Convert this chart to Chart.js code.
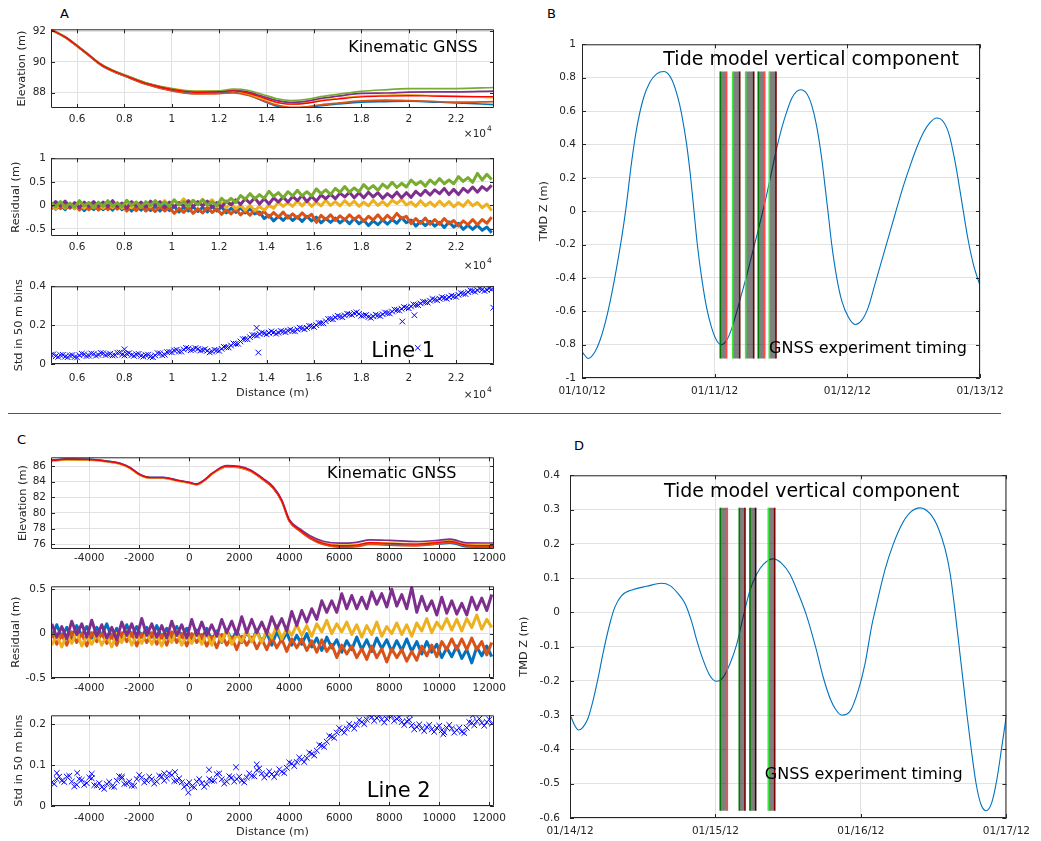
<!DOCTYPE html>
<html>
<head>
<meta charset="utf-8">
<script src="https://cdn.jsdelivr.net/npm/chart.js@4.4.1/dist/chart.umd.min.js"></script>
<style>
  body { margin: 0; background: #fff; width: 1041px; height: 841px; position: relative; overflow: hidden; font-family: "DejaVu Sans", sans-serif; }
  canvas { position: absolute; }
  .tag { position: absolute; font-size: 13px; line-height: 13px; color: #000; }
  .rule { position: absolute; left: 8px; width: 993px; top: 413px; height: 0; border-top: 1px solid #555; }
</style>
</head>
<body>
<div class="tag" style="left:60px;top:7px">A</div>
<div class="tag" style="left:547px;top:7px">B</div>
<div class="tag" style="left:17px;top:433px">C</div>
<div class="tag" style="left:574px;top:439px">D</div>
<div class="rule"></div>

<canvas id="a1"></canvas>
<canvas id="a2"></canvas>
<canvas id="a3"></canvas>
<canvas id="b"></canvas>
<canvas id="c1"></canvas>
<canvas id="c2"></canvas>
<canvas id="c3"></canvas>
<canvas id="d"></canvas>

<script>
// ---------- Line 1 (distance in units of 1e4 m) ----------
const distElevA = [0.49, 0.55, 0.6, 0.65, 0.7, 0.75, 0.8, 0.9, 1.0, 1.1, 1.2, 1.26, 1.32, 1.38, 1.44, 1.5, 1.57, 1.63, 1.7, 1.8, 1.9, 2.0, 2.1, 2.2, 2.36];
const elevA_mean   = [92.11, 91.62, 91.05, 90.45, 89.84, 89.43, 89.13, 88.56, 88.20, 88.02, 88.05, 88.11, 87.97, 87.68, 87.38, 87.24, 87.30, 87.45, 87.57, 87.72, 87.77, 87.79, 87.77, 87.74, 87.73];
const elevA_green  = [92.12, 91.63, 91.07, 90.47, 89.86, 89.46, 89.16, 88.59, 88.24, 88.07, 88.10, 88.22, 88.15, 87.89, 87.61, 87.48, 87.56, 87.73, 87.88, 88.08, 88.18, 88.25, 88.26, 88.26, 88.33];
const elevA_purple = [92.13, 91.64, 91.07, 90.47, 89.86, 89.45, 89.15, 88.58, 88.22, 88.04, 88.07, 88.16, 88.04, 87.77, 87.49, 87.36, 87.44, 87.62, 87.76, 87.95, 87.97, 88.03, 88.04, 88.04, 88.09];
const elevA_yellow = [92.09, 91.60, 91.04, 90.44, 89.83, 89.42, 89.13, 88.58, 88.27, 88.09, 88.09, 88.10, 87.92, 87.61, 87.35, 87.25, 87.33, 87.49, 87.61, 87.76, 87.82, 87.85, 87.80, 87.77, 87.66];
const elevA_orange = [92.09, 91.60, 91.02, 90.42, 89.80, 89.39, 89.08, 88.49, 88.10, 87.91, 87.93, 87.98, 87.82, 87.51, 87.19, 87.03, 87.07, 87.20, 87.31, 87.45, 87.51, 87.47, 87.42, 87.37, 87.41];
const elevA_blue   = [92.08, 91.59, 91.02, 90.41, 89.80, 89.39, 89.08, 88.51, 88.13, 87.94, 87.97, 88.02, 87.86, 87.48, 87.12, 87.00, 87.01, 87.15, 87.25, 87.37, 87.41, 87.43, 87.38, 87.33, 87.21];

const distA = [0.49,0.51,0.53,0.55,0.57,0.59,0.61,0.63,0.65,0.67, 0.69,0.71,0.73,0.75,0.77,0.79,0.81,0.83,0.85,0.87,
  0.89,0.91,0.93,0.95,0.97,0.99,1.01,1.03,1.05,1.07, 1.09,1.11,1.13,1.15,1.17,1.19,1.21,1.23,1.25,1.27,
  1.29,1.31,1.33,1.35,1.37,1.39,1.41,1.43,1.45,1.47, 1.49,1.51,1.53,1.55,1.57,1.59,1.61,1.63,1.65,1.67,
  1.69,1.71,1.73,1.75,1.77,1.79,1.81,1.83,1.85,1.87, 1.89,1.91,1.93,1.95,1.97,1.99,2.01,2.03,2.05,2.07,
  2.09,2.11,2.13,2.15,2.17,2.19,2.21,2.23,2.25,2.27, 2.29,2.31,2.33,2.35];
const distA_mid = [0.50,0.52,0.54,0.56,0.58,0.60,0.62,0.64,0.66,0.68, 0.70,0.72,0.74,0.76,0.78,0.80,0.82,0.84,0.86,0.88,
  0.90,0.92,0.94,0.96,0.98,1.00,1.02,1.04,1.06,1.08, 1.10,1.12,1.14,1.16,1.18,1.20,1.22,1.24,1.26,1.28,
  1.30,1.32,1.34,1.36,1.38,1.40,1.42,1.44,1.46,1.48, 1.50,1.52,1.54,1.56,1.58,1.60,1.62,1.64,1.66,1.68,
  1.70,1.72,1.74,1.76,1.78,1.80,1.82,1.84,1.86,1.88, 1.90,1.92,1.94,1.96,1.98,2.00,2.02,2.04,2.06,2.08,
  2.10,2.12,2.14,2.16,2.18,2.20,2.22,2.24,2.26,2.28, 2.30,2.32,2.34];

const resA_green = [0.06,-0.03,0.08,-0.04,0.05,-0.04,0.10,-0.01,0.06,-0.05, 0.07,-0.02,0.10,-0.02,0.06,-0.03,0.11,0.00,0.07,-0.04,
  0.08,-0.01,0.10,-0.01,0.07,-0.02,0.12,0.01,0.08,-0.03, 0.10,0.01,0.12,0.00,0.08,-0.01,0.15,0.06,0.15,0.06,
  0.21,0.13,0.25,0.14,0.23,0.15,0.30,0.19,0.27,0.16, 0.29,0.20,0.32,0.20,0.29,0.20,0.35,0.25,0.33,0.23,
  0.36,0.28,0.40,0.28,0.37,0.29,0.44,0.34,0.42,0.32, 0.45,0.37,0.49,0.38,0.47,0.39,0.54,0.44,0.51,0.41,
  0.54,0.45,0.57,0.46,0.54,0.46,0.61,0.51,0.59,0.49, 0.68,0.54,0.66,0.55];
const resA_purple = [-0.03,0.08,-0.01,0.09,-0.04,0.06,-0.05,0.07,-0.02,0.08, -0.02,0.07,-0.03,0.10,-0.03,0.05,-0.06,0.08,-0.01,0.07,
  -0.04,0.09,0.00,0.08,-0.05,0.07,-0.03,0.06,-0.02,0.10, -0.03,0.08,-0.01,0.09,-0.04,0.06,-0.04,0.09,0.01,0.12,
  0.02,0.14,0.05,0.16,0.03,0.14,0.03,0.16,0.07,0.18, 0.07,0.19,0.10,0.21,0.08,0.19,0.09,0.22,0.14,0.24,
  0.14,0.26,0.18,0.28,0.16,0.27,0.16,0.28,0.18,0.27, 0.15,0.25,0.17,0.28,0.16,0.27,0.17,0.30,0.21,0.32,
  0.22,0.33,0.25,0.36,0.23,0.34,0.23,0.36,0.28,0.39, 0.28,0.40,0.32,0.43];
const resA_yellow = [0.02,-0.07,0.04,-0.06,0.03,-0.07,0.02,-0.06,0.06,-0.05, 0.03,-0.06,0.05,-0.05,0.05,-0.06,0.03,-0.05,0.07,-0.04,
  0.04,-0.03,0.09,0.00,0.10,-0.01,0.10,0.02,0.14,0.03, 0.11,0.02,0.13,0.03,0.12,-0.02,0.05,-0.05,0.05,-0.07,
  0.00,-0.10,0.00,-0.11,-0.02,-0.10,0.00,-0.06,0.07,-0.02, 0.06,-0.02,0.09,-0.01,0.09,-0.02,0.07,-0.01,0.11,0.00,
  0.08,-0.01,0.10,0.00,0.09,-0.02,0.07,-0.01,0.11,0.00, 0.08,-0.01,0.11,0.04,0.13,0.01,0.07,-0.02,0.10,-0.01,
  0.07,-0.02,0.09,-0.01,0.08,-0.03,0.06,-0.02,0.10,-0.01, 0.06,-0.05,0.03,-0.11];
const resA_orange = [-0.08,0.02,-0.07,0.04,-0.06,0.02,-0.10,0.01,-0.09,0.02, -0.10,0.00,-0.09,0.02,-0.08,0.00,-0.12,-0.01,-0.11,0.00,
  -0.12,-0.04,-0.13,-0.02,-0.12,-0.04,-0.17,-0.06,-0.15,-0.04, -0.17,-0.07,-0.16,-0.04,-0.15,-0.07,-0.19,-0.09,-0.18,-0.08,
  -0.20,-0.11,-0.21,-0.09,-0.20,-0.13,-0.25,-0.15,-0.25,-0.14, -0.27,-0.18,-0.27,-0.16,-0.26,-0.19,-0.36,-0.21,-0.30,-0.20,
  -0.32,-0.22,-0.31,-0.20,-0.30,-0.22,-0.34,-0.23,-0.31,-0.20, -0.32,-0.21,-0.30,-0.17,-0.28,-0.23,-0.39,-0.28,-0.38,-0.27,
  -0.40,-0.30,-0.40,-0.28,-0.39,-0.32,-0.44,-0.33,-0.41,-0.30, -0.41,-0.30,-0.38,-0.25];
const resA_blue = [0.02,-0.08,0.01,-0.09,0.03,-0.07,0.01,-0.11,-0.01,-0.09, 0.01,-0.09,0.00,-0.10,0.01,-0.09,0.00,-0.12,-0.02,-0.10,
  0.00,-0.11,-0.02,-0.12,0.00,-0.11,-0.02,-0.14,-0.04,-0.12, -0.03,-0.13,-0.04,-0.14,-0.02,-0.12,-0.03,-0.16,-0.06,-0.15,
  -0.05,-0.16,-0.07,-0.18,-0.14,-0.28,-0.21,-0.33,-0.23,-0.32, -0.22,-0.32,-0.24,-0.34,-0.23,-0.33,-0.25,-0.37,-0.28,-0.36,
  -0.27,-0.37,-0.29,-0.39,-0.28,-0.39,-0.31,-0.43,-0.33,-0.41, -0.31,-0.40,-0.30,-0.38,-0.26,-0.37,-0.31,-0.44,-0.34,-0.43,
  -0.34,-0.44,-0.36,-0.47,-0.35,-0.46,-0.38,-0.51,-0.42,-0.51, -0.42,-0.53,-0.46,-0.58];

const stdA = [0.048,0.040,0.046,0.038,0.044,0.036,0.045,0.050,0.043,0.052, 0.047,0.055,0.049,0.044,0.058,0.048,0.053,0.046,0.050,0.042,
  0.046,0.038,0.044,0.055,0.048,0.062,0.070,0.064,0.075,0.080, 0.074,0.078,0.072,0.068,0.064,0.070,0.078,0.086,0.095,0.104,
  0.116,0.128,0.138,0.148,0.155,0.158,0.160,0.163,0.161,0.167, 0.172,0.170,0.178,0.183,0.186,0.194,0.200,0.210,0.220,0.232,
  0.240,0.244,0.250,0.256,0.262,0.258,0.250,0.242,0.245,0.250, 0.256,0.262,0.270,0.278,0.284,0.290,0.296,0.305,0.312,0.318,
  0.326,0.332,0.336,0.340,0.344,0.348,0.356,0.362,0.370,0.376, 0.380,0.383,0.381,0.385];
const stdA_mid = [0.050,0.037,0.047,0.035,0.046,0.034,0.053,0.041,0.054,0.043, 0.057,0.046,0.053,0.045,0.059,0.044,0.056,0.042,0.052,0.038,
  0.048,0.035,0.056,0.045,0.061,0.060,0.073,0.064,0.083,0.071, 0.082,0.069,0.076,0.060,0.073,0.068,0.088,0.085,0.106,0.104,
  0.128,0.127,0.149,0.146,0.162,0.153,0.168,0.156,0.170,0.164, 0.177,0.168,0.187,0.179,0.196,0.191,0.211,0.209,0.232,0.230,
  0.248,0.241,0.259,0.253,0.266,0.248,0.252,0.238,0.254,0.247, 0.265,0.260,0.280,0.275,0.293,0.287,0.307,0.303,0.321,0.316,
  0.335,0.328,0.344,0.336,0.352,0.346,0.365,0.360,0.379,0.372, 0.388,0.376,0.389];
const stdA_oddDist = [0.80, 1.358, 1.365, 1.973, 2.024, 2.038, 2.357];
const stdA_oddVal  = [0.076, 0.186, 0.059, 0.219, 0.251, 0.083, 0.290];

// ---------- Line 2 (distance in m) ----------
const distElevC = [-5530, -4900, -4000, -3300, -2770, -2370, -2000, -1570, -1040, -500, 0, 300, 560, 960, 1500, 2000, 2430,
  2960, 3360, 3700, 4000, 4430, 4830, 5360, 6030, 6700, 7230, 8030, 9100, 10030, 10430, 11100, 12190];
const elevC_mean   = [86.72, 86.89, 86.85, 86.63, 86.34, 85.79, 84.95, 84.52, 84.52, 84.19, 83.89, 83.68, 84.10, 85.15, 86.00, 85.91, 85.46,
  84.32, 83.25, 81.57, 79.04, 77.77, 76.85, 76.09, 75.79, 75.87, 76.17, 76.09, 76.00, 76.22, 76.34, 75.87, 75.79];
const elevC_purple = [86.75, 86.92, 86.89, 86.65, 86.37, 85.83, 85.00, 84.56, 84.56, 84.22, 83.93, 83.72, 84.15, 85.20, 86.06, 85.98, 85.54,
  84.41, 83.35, 81.68, 79.16, 77.94, 77.07, 76.37, 76.12, 76.23, 76.54, 76.47, 76.33, 76.51, 76.63, 76.16, 76.14];
const elevC_yellow = [86.65, 86.82, 86.78, 86.56, 86.27, 85.72, 84.88, 84.45, 84.45, 84.12, 83.83, 83.62, 84.04, 85.10, 85.95, 85.87, 85.43,
  84.30, 83.24, 81.58, 79.07, 77.81, 76.90, 76.15, 75.86, 75.92, 76.20, 76.14, 76.06, 76.32, 76.44, 75.98, 75.91];
const elevC_orange = [86.67, 86.84, 86.80, 86.58, 86.29, 85.74, 84.90, 84.47, 84.47, 84.14, 83.83, 83.62, 84.03, 85.08, 85.92, 85.82, 85.37,
  84.22, 83.15, 81.46, 78.92, 77.65, 76.73, 75.94, 75.60, 75.67, 75.96, 75.86, 75.78, 76.07, 76.22, 75.77, 75.63];
const elevC_blue   = [86.74, 86.91, 86.87, 86.65, 86.36, 85.81, 84.97, 84.54, 84.53, 84.20, 83.88, 83.67, 84.09, 85.13, 85.98, 85.88, 85.43,
  84.28, 83.21, 81.52, 78.98, 77.70, 76.76, 75.98, 75.65, 75.75, 76.05, 75.96, 75.86, 76.02, 76.13, 75.64, 75.60];

const distC = [-5500,-5300,-5100,-4900,-4700,-4500,-4300,-4100,-3900,-3700, -3500,-3300,-3100,-2900,-2700,-2500,-2300,-2100,-1900,-1700,
  -1500,-1300,-1100,-900,-700,-500,-300,-100,100,300, 500,700,900,1100,1300,1500,1700,1900,2100,2300,
  2500,2700,2900,3100,3300,3500,3700,3900,4100,4300, 4500,4700,4900,5100,5300,5500,5700,5900,6100,6300,
  6500,6700,6900,7100,7300,7500,7700,7900,8100,8300, 8500,8700,8900,9100,9300,9500,9700,9900,10100,10300,
  10500,10700,10900,11100,11300,11500,11700,11900,12100];
const distC_mid = [-5400,-5200,-5000,-4800,-4600,-4400,-4200,-4000,-3800,-3600, -3400,-3200,-3000,-2800,-2600,-2400,-2200,-2000,-1800,-1600,
  -1400,-1200,-1000,-800,-600,-400,-200,0,200,400, 600,800,1000,1200,1400,1600,1800,2000,2200,2400,
  2600,2800,3000,3200,3400,3600,3800,4000,4200,4400, 4600,4800,5000,5200,5400,5600,5800,6000,6200,6400,
  6600,6800,7000,7200,7400,7600,7800,8000,8200,8400, 8600,8800,9000,9200,9400,9600,9800,10000,10200,10400,
  10600,10800,11000,11200,11400,11600,11800,12000];

const resC_purple = [0.11,-0.04,0.08,-0.06,0.14,-0.01,0.11,-0.04,0.15,-0.03, 0.10,-0.05,0.07,-0.07,0.13,-0.02,0.11,-0.04,0.17,-0.02,
  0.11,-0.04,0.09,-0.05,0.14,-0.02,0.10,-0.05,0.16,-0.02, 0.13,-0.02,0.10,-0.03,0.16,0.01,0.14,-0.01,0.19,0.01,
  0.16,0.01,0.13,0.00,0.19,0.05,0.17,0.03,0.25,0.09, 0.26,0.13,0.28,0.16,0.37,0.24,0.37,0.24,0.45,0.28,
  0.43,0.28,0.41,0.28,0.47,0.33,0.45,0.30,0.50,0.31, 0.44,0.28,0.52,0.24,0.42,0.26,0.37,0.21,0.41,0.23,
  0.37,0.22,0.34,0.21,0.41,0.27,0.40,0.26,0.44];
const resC_yellow = [-0.13,-0.02,-0.15,-0.01,-0.11,0.02,-0.14,-0.03,-0.12,0.00, -0.13,-0.02,-0.15,0.00,-0.10,0.03,-0.13,-0.02,-0.11,0.01,
  -0.12,-0.01,-0.14,0.00,-0.10,0.03,-0.13,-0.02,-0.11,0.01, -0.12,0.00,-0.13,0.01,-0.09,0.04,-0.12,-0.01,-0.09,0.03,
  -0.09,0.02,-0.10,0.04,-0.05,0.09,-0.06,0.06,-0.02,0.10, -0.02,0.09,-0.03,0.11,0.02,0.15,0.00,0.11,0.02,0.13,
  -0.01,0.10,-0.04,0.09,-0.01,0.13,-0.03,0.08,0.00,0.12, -0.01,0.10,-0.03,0.12,0.03,0.17,0.01,0.13,0.05,0.17,
  0.04,0.16,0.03,0.17,0.07,0.21,0.05,0.16,0.07];
const resC_orange = [0.01,-0.12,-0.01,-0.13,0.02,-0.10,0.00,-0.14,0.01,-0.09, 0.00,-0.11,-0.02,-0.13,0.01,-0.09,0.01,-0.14,0.00,-0.10,
  0.01,-0.12,-0.01,-0.13,0.02,-0.10,0.00,-0.14,0.00,-0.10, -0.01,-0.14,-0.03,-0.16,-0.01,-0.13,-0.04,-0.18,-0.03,-0.13,
  -0.04,-0.17,-0.06,-0.18,-0.04,-0.16,-0.06,-0.20,-0.06,-0.16, -0.06,-0.19,-0.08,-0.21,-0.07,-0.20,-0.12,-0.27,-0.13,-0.23,
  -0.14,-0.27,-0.17,-0.29,-0.14,-0.27,-0.17,-0.32,-0.17,-0.27, -0.18,-0.31,-0.20,-0.30,-0.14,-0.25,-0.13,-0.26,-0.09,-0.18,
  -0.06,-0.18,-0.06,-0.18,-0.05,-0.18,-0.09,-0.24,-0.10];
const resC_blue = [-0.03,0.10,-0.04,0.07,-0.06,0.09,-0.02,0.08,-0.05,0.07, -0.02,0.11,-0.05,0.06,-0.06,0.10,-0.03,0.08,-0.04,0.07,
  -0.04,0.09,-0.05,0.06,-0.07,0.08,-0.04,0.06,-0.08,0.04, -0.06,0.06,-0.08,0.03,-0.10,0.04,-0.07,0.03,-0.10,0.02,
  -0.09,0.04,-0.10,0.01,-0.13,0.02,-0.09,0.01,-0.13,-0.02, -0.12,0.00,-0.15,-0.05,-0.19,-0.04,-0.16,-0.07,-0.21,-0.08,
  -0.18,-0.04,-0.18,-0.07,-0.20,-0.05,-0.17,-0.07,-0.20,-0.08, -0.19,-0.06,-0.20,-0.09,-0.23,-0.09,-0.21,-0.12,-0.27,-0.16,
  -0.26,-0.14,-0.28,-0.18,-0.33,-0.15,-0.25,-0.14,-0.26];

const stdC = [0.058,0.066,0.062,0.072,0.060,0.052,0.064,0.056,0.068,0.050, 0.046,0.054,0.048,0.062,0.068,0.055,0.050,0.066,0.070,0.062,
  0.066,0.060,0.072,0.068,0.076,0.062,0.058,0.052,0.048,0.060, 0.056,0.054,0.062,0.078,0.066,0.060,0.070,0.066,0.062,0.070,
  0.074,0.088,0.080,0.076,0.078,0.080,0.084,0.094,0.104,0.108, 0.114,0.118,0.128,0.136,0.148,0.158,0.170,0.180,0.186,0.190,
  0.196,0.200,0.206,0.212,0.218,0.216,0.212,0.214,0.220,0.214, 0.206,0.208,0.198,0.194,0.190,0.194,0.188,0.192,0.186,0.192,
  0.190,0.186,0.182,0.192,0.204,0.208,0.204,0.206,0.202];
const stdC_mid = [0.054,0.072,0.059,0.074,0.048,0.066,0.052,0.070,0.051,0.056, 0.042,0.059,0.047,0.073,0.054,0.060,0.050,0.076,0.058,0.072,
  0.055,0.074,0.062,0.080,0.061,0.068,0.047,0.058,0.046,0.066, 0.047,0.066,0.062,0.080,0.055,0.073,0.060,0.072,0.058,0.080,
  0.073,0.092,0.070,0.085,0.071,0.090,0.081,0.107,0.098,0.119, 0.108,0.131,0.124,0.150,0.145,0.172,0.167,0.191,0.180,0.201,
  0.190,0.211,0.201,0.223,0.209,0.222,0.205,0.225,0.209,0.218, 0.199,0.211,0.188,0.200,0.184,0.199,0.182,0.197,0.181,0.199,
  0.180,0.192,0.179,0.206,0.198,0.214,0.197,0.212];
const stdC_oddDist = [-5300, -4480, -3900, -2700, -1000, -570, -40, 790, 1870, 2700, 8830, 10160, 11340];
const stdC_oddVal  = [0.081, 0.081, 0.079, 0.072, 0.080, 0.083, 0.033, 0.089, 0.095, 0.102, 0.224, 0.176, 0.222];

// ---------- Tide model (hours from the first date tick) ----------
const tideB_hours = [0, 1.15, 2.35, 3.26, 4.46, 5.37, 6.27, 7.18, 7.96, 8.99, 9.89, 11.10, 12.30, 13.51, 14.83, 16.22, 17.43, 18.03, 18.93, 19.66,
  20.26, 20.86, 21.65, 22.55, 23.46, 24.36, 25.27, 26.17, 27.08, 27.98, 28.88, 29.79, 30.69, 31.60, 32.50, 33.41, 34.31, 35.22, 36.12, 37.03,
  37.93, 38.84, 39.56, 40.64, 41.55, 42.45, 43.36, 44.14, 44.56, 45.17, 46.07, 46.98, 48.18, 49.39, 50.59, 51.80, 53.00, 54.21, 55.42, 56.62,
  58.13, 59.34, 60.54, 61.75, 62.95, 64.16, 65.37, 66.45, 67.48, 68.50, 68.98, 69.89, 70.79, 72.0];
const tideB = [-0.843, -0.883, -0.843, -0.774, -0.635, -0.496, -0.337, -0.159, 0.020, 0.298, 0.496, 0.675, 0.774, 0.823, 0.837, 0.790, 0.670, 0.580, 0.400, 0.200,
  0.000, -0.200, -0.400, -0.580, -0.700, -0.775, -0.800, -0.774, -0.704, -0.605, -0.496, -0.387, -0.268, -0.149, -0.030, 0.099, 0.238, 0.377, 0.496, 0.595,
  0.675, 0.718, 0.728, 0.705, 0.635, 0.510, 0.317, 0.099, -0.020, -0.198, -0.397, -0.536, -0.635, -0.679, -0.655, -0.575, -0.437, -0.298, -0.159, -0.020,
  0.150, 0.270, 0.380, 0.470, 0.530, 0.558, 0.536, 0.456, 0.298, 0.099, 0.000, -0.179, -0.317, -0.446];
const surveyB_start = [25.02, 27.26, 29.61, 31.89, 33.88];
const surveyB_end   = [26.17, 28.53, 31.06, 33.05, 35.09];

const tideD_hours = [0, 0.82, 1.38, 2.09, 2.91, 3.74, 4.56, 5.50, 6.60, 7.42, 8.52, 10.45, 12.65, 15.12, 16.50, 17.87, 18.97, 20.07, 20.89, 21.99,
  23.09, 24.19, 25.29, 26.39, 27.49, 28.59, 29.69, 30.79, 31.89, 33.54, 34.92, 36.29, 37.67, 39.04, 40.58, 41.79, 43.00, 43.90, 44.82, 46.19,
  47.57, 48.67, 49.77, 50.60, 51.97, 53.35, 54.72, 56.10, 57.75, 59.40, 60.78, 61.88, 62.70, 63.55, 64.20, 64.85, 65.50, 66.20, 67.00, 67.80,
  68.65, 69.58, 70.41, 71.23, 72.0];
const tideD = [-0.298, -0.331, -0.343, -0.336, -0.312, -0.262, -0.198, -0.115, -0.031, 0.016, 0.049, 0.067, 0.076, 0.085, 0.078, 0.054, 0.026, -0.027, -0.080, -0.140,
  -0.185, -0.201, -0.189, -0.150, -0.094, -0.012, 0.064, 0.111, 0.140, 0.156, 0.143, 0.111, 0.055, -0.010, -0.105, -0.190, -0.255, -0.285, -0.300, -0.289,
  -0.227, -0.150, -0.040, 0.025, 0.125, 0.200, 0.256, 0.291, 0.305, 0.288, 0.245, 0.185, 0.115, 0.000, -0.100, -0.200, -0.300, -0.400, -0.500, -0.560,
  -0.579, -0.555, -0.489, -0.393, -0.300];
const surveyD_start = [24.79, 27.93, 29.69, 32.71];
const surveyD_end   = [25.95, 28.87, 30.63, 33.77];

// ---------- tick marks ----------
const ticksDistA = [0.6, 0.8, 1, 1.2, 1.4, 1.6, 1.8, 2, 2.2];
const ticksDistC = [-4000, -2000, 0, 2000, 4000, 6000, 8000, 10000, 12000];
const ticksElevA = [88, 90, 92];
const ticksResA = [-0.5, 0, 0.5, 1];
const ticksStdA = [0, 0.2, 0.4];
const ticksElevC = [76, 78, 80, 82, 84, 86];
const ticksResC = [-0.5, 0, 0.5];
const ticksStdC = [0, 0.1, 0.2];
const ticksTideB = [-1, -0.8, -0.6, -0.4, -0.2, 0, 0.2, 0.4, 0.6, 0.8, 1];
const ticksTideD = [-0.6, -0.5, -0.4, -0.3, -0.2, -0.1, 0, 0.1, 0.2, 0.3, 0.4];
const ticksHours = [0, 24, 48, 72];
const dateLabelsB = ['01/10/12', '01/11/12', '01/12/12', '01/13/12'];
const dateLabelsD = ['01/14/12', '01/15/12', '01/16/12', '01/17/12'];

// ---------- styling ----------
const C = { blue: '#0072BD', orange: '#D95319', yellow: '#EDB120', purple: '#7E2F8E', green: '#77AC30', red: '#FF0000' };
const DARK_G = '#007a00', LIGHT_G = '#3ee83e', DARK_R = '#7a0000', LIGHT_R = '#ff4a4a';
const edgesB = [[DARK_G, LIGHT_R], [LIGHT_G, DARK_R], [LIGHT_G, DARK_R], [DARK_G, LIGHT_R], [LIGHT_G, DARK_R]];
const edgesD = [[DARK_G, LIGHT_R], [DARK_G, DARK_R], [DARK_G, '#400000'], [LIGHT_G, DARK_R]];
const GRID = '#e2e2e2';
const AXIS = '#262626';

Chart.defaults.font.family = '"DejaVu Sans", sans-serif';
Chart.defaults.font.size = 10.5;
Chart.defaults.color = AXIS;

const pts = (xs, ys) => xs.map((x, i) => ({ x, y: ys[i] }));
const fmt = v => { const r = Math.round(v * 1000) / 1000; return String(r === 0 ? 0 : r); };

function line(xs, ys, color, width, smooth) {
  return { data: pts(xs, ys), borderColor: color, borderWidth: width, pointRadius: 0,
           borderJoinStyle: 'round', cubicInterpolationMode: smooth ? 'monotone' : 'default', fill: false };
}
function crosses(xs, ys) {
  return { data: pts(xs, ys), showLine: false, pointStyle: 'crossRot', pointRadius: 4,
           pointBorderColor: '#0000ff', pointBorderWidth: 1, borderColor: '#0000ff' };
}
// grey survey windows spanning the tide range, green start edge / red end edge
function windows(starts, ends, tide, edges) {
  const lo = Math.min(...tide), hi = Math.max(...tide);
  return starts.map((s, i) => ({
    data: [{ x: s, y: lo }, { x: s, y: hi }, { x: ends[i], y: hi }, { x: ends[i], y: lo }],
    fill: { value: lo }, backgroundColor: 'rgba(0,0,0,0.5)', borderWidth: 1.6, pointRadius: 0,
    borderColor: 'rgba(0,0,0,0)',
    segment: { borderColor: c => c.p0DataIndex === 0 ? edges[i][0] : (c.p0DataIndex === 2 ? edges[i][1] : 'rgba(0,0,0,0)') }
  }));
}

// box around the plot area with inward ticks on all four sides
const framePlugin = {
  id: 'frame',
  afterDatasetsDraw(chart) {
    const { ctx, chartArea: a, scales: { x, y } } = chart;
    const tl = 4;
    ctx.save();
    ctx.strokeStyle = AXIS;
    ctx.lineWidth = 1;
    ctx.beginPath();
    ctx.rect(a.left + 0.5, a.top + 0.5, a.right - a.left - 1, a.bottom - a.top - 1);
    x.ticks.forEach(t => {
      const p = Math.round(x.getPixelForValue(t.value)) + 0.5;
      ctx.moveTo(p, a.bottom); ctx.lineTo(p, a.bottom - tl);
      ctx.moveTo(p, a.top); ctx.lineTo(p, a.top + tl);
    });
    y.ticks.forEach(t => {
      const p = Math.round(y.getPixelForValue(t.value)) + 0.5;
      ctx.moveTo(a.left, p); ctx.lineTo(a.left + tl, p);
      ctx.moveTo(a.right, p); ctx.lineTo(a.right - tl, p);
    });
    ctx.stroke();
    ctx.restore();
  }
};

// text placed at data coordinates, plus the x10^4 exponent marker
function notesPlugin(notes, expOffset) {
  return {
    id: 'notes',
    afterDraw(chart) {
      const { ctx, chartArea: a, scales: { x, y } } = chart;
      ctx.save();
      ctx.fillStyle = '#000';
      ctx.textAlign = 'center';
      ctx.textBaseline = 'alphabetic';
      (notes || []).forEach(n => {
        ctx.font = n.size + 'px "DejaVu Sans"';
        ctx.fillText(n.text, x.getPixelForValue(n.x), y.getPixelForValue(n.y));
      });
      if (expOffset) {
        ctx.fillStyle = AXIS;
        ctx.textAlign = 'right';
        ctx.font = '10.5px "DejaVu Sans"';
        ctx.fillText('\u00d710', a.right - 8, a.bottom + expOffset);
        ctx.font = '7.5px "DejaVu Sans"';
        ctx.textAlign = 'left';
        ctx.fillText('4', a.right - 7, a.bottom + expOffset - 6);
      }
      ctx.restore();
    }
  };
}

function panel(id, area, o) {
  const cv = document.getElementById(id);
  cv.width = area[2] - area[0] + o.yW + o.padR;
  cv.height = area[3] - area[1] + o.padT + o.xH;
  cv.style.left = (area[0] - o.yW) + 'px';
  cv.style.top = (area[1] - o.padT) + 'px';
  const xLabel = o.x.labels ? ((v, i) => o.x.labels[i]) : fmt;
  return new Chart(cv, {
    type: 'line',
    data: { datasets: o.datasets },
    options: {
      responsive: false, animation: false, events: [],
      layout: { padding: { top: o.padT, right: o.padR, left: 0, bottom: 0 } },
      plugins: { legend: { display: false }, tooltip: { enabled: false } },
      scales: {
        x: {
          type: 'linear', min: o.x.min, max: o.x.max,
          afterBuildTicks: s => { s.ticks = o.x.ticks.map(v => ({ value: v })); },
          afterFit: s => { s.height = o.xH; },
          grid: { color: GRID, drawTicks: false }, border: { display: false },
          ticks: { autoSkip: false, maxRotation: 0, padding: o.x.pad, callback: xLabel },
          title: o.x.title ? { display: true, text: o.x.title, padding: 0, font: { size: 11.3 } } : { display: false }
        },
        y: {
          min: o.y.min, max: o.y.max,
          afterBuildTicks: s => { s.ticks = o.y.ticks.map(v => ({ value: v })); },
          afterFit: s => { s.width = o.yW; },
          grid: { color: GRID, drawTicks: false }, border: { display: false },
          ticks: { autoSkip: false, padding: o.y.pad, callback: fmt },
          title: { display: true, text: o.y.title, padding: 0, font: { size: 11.3 } }
        }
      }
    },
    plugins: [framePlugin, notesPlugin(o.notes, o.exp)]
  });
}

// ---------- Line 1 panels ----------
panel('a1', [51, 28, 494, 108], {
  yW: 36, xH: 36, padT: 10, padR: 20, exp: 29,
  x: { min: 0.49, max: 2.36, ticks: ticksDistA, pad: 5 },
  y: { min: 86.99, max: 92.13, ticks: ticksElevA, pad: 5, title: 'Elevation (m)' },
  notes: [{ x: 2.018, y: 90.68, text: 'Kinematic GNSS', size: 16 }],
  datasets: [
    line(distElevA, elevA_mean, C.red, 1.3, true),
    line(distElevA, elevA_green, C.green, 1.7, true),
    line(distElevA, elevA_purple, C.purple, 1.7, true),
    line(distElevA, elevA_yellow, C.yellow, 1.7, true),
    line(distElevA, elevA_orange, C.orange, 1.7, true),
    line(distElevA, elevA_blue, C.blue, 1.7, true)
  ]
});

panel('a2', [51, 157, 494, 236], {
  yW: 42, xH: 36, padT: 10, padR: 20, exp: 33,
  x: { min: 0.49, max: 2.36, ticks: ticksDistA, pad: 5 },
  y: { min: -0.65, max: 1, ticks: ticksResA, pad: 5, title: 'Residual (m)' },
  datasets: [
    line(distA, resA_green, C.green, 3),
    line(distA, resA_purple, C.purple, 3),
    line(distA, resA_yellow, C.yellow, 3),
    line(distA, resA_orange, C.orange, 3),
    line(distA, resA_blue, C.blue, 3)
  ]
});

panel('a3', [51, 285, 494, 364], {
  yW: 39, xH: 36, padT: 10, padR: 20, exp: 34,
  x: { min: 0.49, max: 2.36, ticks: ticksDistA, pad: 8, title: 'Distance (m)' },
  y: { min: 0, max: 0.4, ticks: ticksStdA, pad: 5, title: 'Std in 50 m bins' },
  notes: [{ x: 1.977, y: 0.034, text: 'Line 1', size: 21 }],
  datasets: [crosses(distA, stdA), crosses(distA_mid, stdA_mid), crosses(stdA_oddDist, stdA_oddVal)]
});

// ---------- tide panel for line 1 ----------
panel('b', [582, 42, 980, 378], {
  yW: 45, xH: 26, padT: 10, padR: 40,
  x: { min: 0, max: 72, ticks: ticksHours, pad: 7, labels: dateLabelsB },
  y: { min: -1, max: 1, ticks: ticksTideB, pad: 6, title: 'TMD Z (m)' },
  notes: [
    { x: 41.46, y: 0.873, text: 'Tide model vertical component', size: 19 },
    { x: 51.74, y: -0.853, text: 'GNSS experiment timing', size: 16 }
  ],
  datasets: [
    ...windows(surveyB_start, surveyB_end, tideB, edgesB),
    line(tideB_hours, tideB, C.blue, 1.1, true)
  ]
});

// ---------- Line 2 panels ----------
panel('c1', [51, 456, 494, 549], {
  yW: 35, xH: 18, padT: 10, padR: 20,
  x: { min: -5530, max: 12190, ticks: ticksDistC, pad: 3 },
  y: { min: 75.37, max: 87.14, ticks: ticksElevC, pad: 5, title: 'Elevation (m)' },
  notes: [{ x: 8098, y: 84.44, text: 'Kinematic GNSS', size: 16 }],
  datasets: [
    line(distElevC, elevC_mean, C.red, 1.3, true),
    line(distElevC, elevC_purple, C.purple, 1.7, true),
    line(distElevC, elevC_yellow, C.yellow, 1.7, true),
    line(distElevC, elevC_orange, C.orange, 1.7, true),
    line(distElevC, elevC_blue, C.blue, 1.7, true)
  ]
});

panel('c2', [51, 585, 494, 678], {
  yW: 42, xH: 20, padT: 10, padR: 20,
  x: { min: -5530, max: 12190, ticks: ticksDistC, pad: 4 },
  y: { min: -0.5, max: 0.533, ticks: ticksResC, pad: 5, title: 'Residual (m)' },
  datasets: [
    line(distC, resC_purple, C.purple, 3),
    line(distC, resC_yellow, C.yellow, 3),
    line(distC, resC_orange, C.orange, 3),
    line(distC, resC_blue, C.blue, 3)
  ]
});

panel('c3', [51, 714, 494, 806], {
  yW: 39, xH: 33, padT: 10, padR: 20,
  x: { min: -5530, max: 12190, ticks: ticksDistC, pad: 6, title: 'Distance (m)' },
  y: { min: 0, max: 0.2225, ticks: ticksStdC, pad: 5, title: 'Std in 50 m bins' },
  notes: [{ x: 8378, y: 0.0225, text: 'Line 2', size: 21 }],
  datasets: [crosses(distC, stdC), crosses(distC_mid, stdC_mid), crosses(stdC_oddDist, stdC_oddVal)]
});

// ---------- tide panel for line 2 ----------
panel('d', [570, 469, 1007, 818], {
  yW: 53, xH: 24, padT: 10, padR: 30,
  x: { min: 0, max: 72, ticks: ticksHours, pad: 7, labels: dateLabelsD },
  y: { min: -0.6, max: 0.4, ticks: ticksTideD, pad: 10, title: 'TMD Z (m)' },
  notes: [
    { x: 39.88, y: 0.338, text: 'Tide model vertical component', size: 19 },
    { x: 48.46, y: -0.485, text: 'GNSS experiment timing', size: 16 }
  ],
  datasets: [
    ...windows(surveyD_start, surveyD_end, tideD, edgesD),
    line(tideD_hours, tideD, C.blue, 1.1, true)
  ]
});
</script>
</body>
</html>
